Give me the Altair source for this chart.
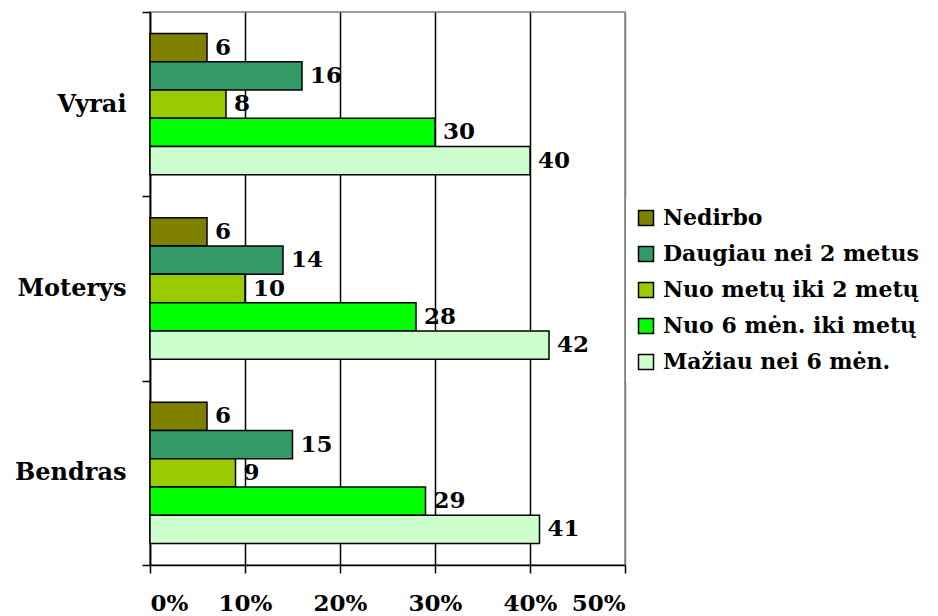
import altair as alt
import pandas as pd

categories = ["Vyrai", "Moterys", "Bendras"]
series = ["Nedirbo", "Daugiau nei 2 metus", "Nuo metų iki 2 metų",
          "Nuo 6 mėn. iki metų", "Mažiau nei 6 mėn."]
colors = ["#808000", "#339966", "#99CC00", "#00FF00", "#CCFFCC"]
vyrai = [6, 16, 8, 30, 40]
moterys = [6, 14, 10, 28, 42]
bendras = [6, 15, 9, 29, 41]
x_ticks = [0, 10, 20, 30, 40, 50]

rows = []
for cat, vals in zip(categories, [vyrai, moterys, bendras]):
    for s, v in zip(series, vals):
        rows.append({"grupe": cat, "serija": s, "reiksme": v})
df = pd.DataFrame(rows)

FONT = "DejaVu Serif"

y_enc = alt.Y(
    "grupe:N", sort=categories,
    scale=alt.Scale(paddingInner=0, paddingOuter=0),
    axis=alt.Axis(title=None, tickBand="extent", labelFont=FONT, labelFontSize=24,
                  labelFontWeight="bold", labelColor="black", labelPadding=16,
                  tickSize=8, tickColor="black", tickWidth=1.5,
                  domainColor="black", domainWidth=1.5, grid=False),
)
yoff = alt.YOffset("serija:N", sort=series,
                   scale=alt.Scale(paddingInner=0, paddingOuter=0.76))
x_enc = alt.X(
    "reiksme:Q",
    scale=alt.Scale(domain=[0, 50], nice=False),
    axis=alt.Axis(values=x_ticks, labelExpr="datum.value + '%'", title=None,
                  labelFont=FONT, labelFontSize=23, labelFontWeight="bold",
                  labelColor="black", labelPadding=19, tickSize=8,
                  tickColor="black", tickWidth=1.5, domainColor="black",
                  domainWidth=1.5, grid=True, gridWidth=1.5,
                  gridColor={"condition": {"test": "datum.value === 50", "value": "#808080"},
                             "value": "black"}),
)
color_enc = alt.Color(
    "serija:N", sort=series,
    scale=alt.Scale(domain=series, range=colors),
    legend=alt.Legend(title=None, orient="none", legendX=476, legendY=186,
                      symbolType="square", symbolSize=225, symbolStrokeColor="black",
                      symbolStrokeWidth=1.5, labelFont=FONT, labelFontSize=22,
                      labelFontWeight="bold", labelColor="black", labelOffset=6,
                      rowPadding=14, padding=9, fillColor="white", labelLimit=400),
)

base = alt.Chart(df)
bars = base.mark_bar(stroke="black", strokeWidth=1.5).encode(
    x=x_enc, y=y_enc, yOffset=yoff, color=color_enc
)
labels = base.mark_text(align="left", baseline="middle", dx=8, font=FONT,
                        fontSize=23, fontWeight="bold", color="black").encode(
    x=alt.X("reiksme:Q"), y=alt.Y("grupe:N", sort=categories),
    yOffset=alt.YOffset("serija:N", sort=series), text=alt.Text("reiksme:Q")
)

chart = (bars + labels).properties(
    width=475, height=553,
    padding={"left": 142, "top": 4, "right": 305, "bottom": 51},
    autosize="none",
).configure_view(stroke="#808080", strokeWidth=1.5)

chart.save("out.html", embed_options={"renderer": "svg", "actions": False})
